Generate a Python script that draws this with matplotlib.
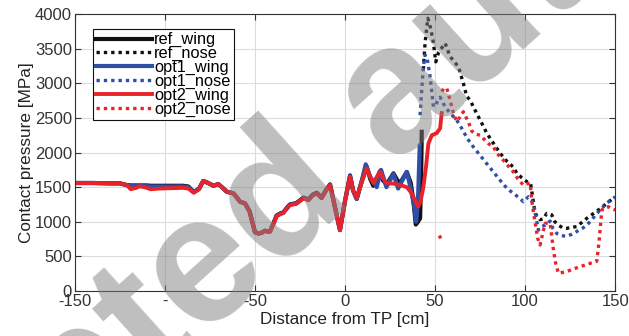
import numpy as np
import matplotlib
matplotlib.use("Agg")
import matplotlib.pyplot as plt

# =============================================================================
# DATA
# =============================================================================

# opt2 wing (red solid), ref and opt1 wings follow it closely up to ~0 cm
opt2_wing_x = [-150, -140, -130, -125, -121, -119, -116, -114, -110, -108, -103, -97,
               -90, -87, -84, -81, -78.7, -76, -73, -70.4, -67.5, -65.7, -62, -60,
               -58.3, -55.5, -53, -51, -50, -48, -46, -44.5, -43, -41.7, -40, -38,
               -36, -34.3, -32, -30.6, -27, -25, -23, -20.4, -18, -15.7, -13, -10.5,
               -8.3, -5.5, -2.8, 0, 2.8, 4.5, 6.5, 9, 12, 14, 15.7, 17.5, 19.4, 21,
               23.1, 26.9, 30.6, 34.3, 36.5, 38, 39.5, 40.7, 42, 43.5, 45, 46.3, 48.2,
               50.9, 52.8, 53.7]
opt2_wing_y = [1560, 1560, 1555, 1555, 1530, 1470, 1490, 1515, 1490, 1470, 1480, 1485,
               1490, 1480, 1420, 1470, 1590, 1560, 1520, 1545, 1480, 1435, 1410, 1350,
               1290, 1265, 1150, 950, 850, 830, 845, 870, 860, 860, 950, 1080,
               1110, 1125, 1200, 1240, 1260, 1300, 1340, 1310, 1380, 1410, 1340, 1450,
               1530, 1200, 880, 1300, 1650, 1450, 1340, 1550, 1770, 1650, 1560, 1640, 1720, 1630,
               1560, 1550, 1530, 1500, 1430, 1360, 1270, 1220, 1300, 1500, 1800, 2130, 2250,
               2280, 2350, 2570]

ref_wing_x = [-150, -140, -130, -125, -121, -119, -116, -114, -110, -108, -103, -97,
              -90, -87, -84, -81, -78.7, -76, -73, -70.4, -67.5, -65.7, -62, -60,
              -58.3, -55.5, -53, -51, -50, -48, -46, -44.5, -43, -41.7, -40, -38,
              -36, -34.3, -32, -30.6, -27, -25, -23, -20.4, -18, -15.7, -13, -10.5,
              -8.3, -5.5, -2.8, 0, 2.8, 4.5, 6.5, 9, 12, 14, 15.7, 17.5, 19.4, 21,
              23.1, 26.9, 29, 30.6, 34.3, 36.5, 38, 39.3, 40.5, 41.7, 42.3, 42.6]
ref_wing_y = [1560, 1560, 1555, 1555, 1530, 1525, 1525, 1525, 1525, 1520, 1520, 1520,
              1520, 1510, 1430, 1480, 1590, 1560, 1520, 1545, 1480, 1435, 1410, 1350,
              1290, 1265, 1150, 950, 850, 830, 845, 870, 860, 860, 960, 1090,
              1120, 1135, 1210, 1250, 1270, 1310, 1350, 1320, 1390, 1420, 1350, 1460,
              1540, 1200, 880, 1300, 1670, 1450, 1330, 1560, 1800, 1620, 1520, 1620, 1730, 1600,
              1540, 1700, 1600, 1560, 1720, 1560, 1300, 960, 1000, 1050, 1700, 2300]

opt1_wing_x = [-150, -140, -130, -125, -121, -119, -116, -114, -110, -108, -103, -97,
               -90, -87, -84, -81, -78.7, -76, -73, -70.4, -67.5, -65.7, -62, -60,
               -58.3, -55.5, -53, -51, -50, -48, -46, -44.5, -43, -41.7, -40, -38,
               -36, -34.3, -32, -30.6, -27, -25, -23, -20.4, -18, -15.7, -13, -10.5,
               -8.3, -5.5, -2.8, 0, 2.8, 4.5, 6.5, 9, 11.5, 14, 17.6, 20, 23, 26.9,
               29.5, 34.3, 36.5, 38.5, 39.5, 40.5, 41.5]
opt1_wing_y = [1560, 1560, 1555, 1555, 1525, 1515, 1515, 1515, 1515, 1510, 1510, 1510,
               1510, 1500, 1425, 1475, 1590, 1560, 1520, 1545, 1480, 1435, 1410, 1350,
               1290, 1265, 1150, 950, 850, 830, 845, 870, 860, 860, 955, 1085,
               1115, 1130, 1205, 1245, 1265, 1305, 1345, 1315, 1385, 1415, 1345, 1455,
               1535, 1200, 880, 1300, 1660, 1450, 1330, 1560, 1830, 1650, 1500, 1750, 1500, 1690,
               1480, 1720, 1480, 1200, 1000, 1300, 2100]

ref_nose_x = [43.5, 44.5, 46, 47.5, 49, 50.4, 52, 55.6, 58.3, 61, 63, 65.7, 67.6, 69.4,
              73, 76, 78.7, 82, 86.1, 90, 93.5, 95.4, 98, 100.9, 103, 105.6, 108.3, 110,
              112, 114.8, 116.5, 118.5, 121, 123.1, 126, 128.7, 131, 134.3, 138, 141.7,
              145.5, 149]
ref_nose_y = [3200, 3600, 3940, 3800, 3600, 3310, 3450, 3580, 3390, 3300, 3240, 3000, 2810, 2760,
              2570, 2420, 2280, 2150, 1990, 1870, 1790, 1700, 1640, 1580, 1560, 1120, 1030, 1040,
              1120, 1100, 1000, 950, 910, 905, 920, 930, 980, 1050, 1120, 1190,
              1270, 1340]

opt1_nose_x = [41.7, 42.6, 43.5, 44.4, 45.5, 47.2, 49.1, 50.5, 52.8, 55.6, 58.3, 60.2, 62,
               64.8, 68, 71.3, 75, 79.6, 83, 86.1, 90, 93.5, 97, 99, 101.8, 104.6, 106.5,
               107.4, 109, 111.1, 113.9, 115.5, 117.6, 120, 123.1, 126, 128.7, 131.5,
               134.3, 137, 139.8, 142.5, 145.4, 150]
opt1_nose_y = [2540, 2900, 3240, 3410, 3380, 3100, 2660, 2700, 2800, 2660, 2570, 2520, 2470,
               2350, 2200, 2080, 1960, 1810, 1700, 1600, 1480, 1410, 1340, 1290, 1360, 1270, 1000,
               880, 930, 950, 1010, 900, 830, 800, 790, 820, 860, 900,
               950, 1030, 1120, 1190, 1270, 1360]

# small stray piece near 52 cm, then the main curve (gap as NaN)
opt2_nose_x = [52.3, 53.2, np.nan,
               53.7, 55, 56.5, 58.3, 60.2, 62, 63.5, 65.7, 67, 68.5, 70.4, 72, 75, 79.6,
               82.4, 84.3, 87.9, 90.5, 93.5, 96, 99, 100.5, 102.8, 104, 105.6, 107, 108.3,
               109.5, 111.1, 112.5, 113.9, 115.7, 116.8, 118.5, 123.1, 127, 130.6, 135,
               139.8, 141, 142.6, 144, 146.3, 148, 150]
opt2_nose_y = [800, 760, np.nan,
               2880, 2930, 2930, 2760, 2570, 2450, 2500, 2590, 2520, 2445, 2310, 2270, 2250, 2130,
               2084, 1990, 1890, 1810, 1720, 1620, 1530, 1545, 1555, 1250, 980, 760, 664,
               800, 977, 980, 977, 600, 420, 256, 280, 320, 351, 390,
               430, 700, 1170, 1200, 1217, 1190, 1170]

X_TICKS = [-150, -100, -50, 0, 50, 100, 150]
# the "100" of -100 is hidden under the watermark in the source
X_TICKLABELS = ["-150", "-", "-50", "0", "50", "100", "150"]
Y_TICKS = [0, 500, 1000, 1500, 2000, 2500, 3000, 3500, 4000]

BLACK = "#111111"
BLUE = "#2f4fa6"
RED = "#e8232a"

# =============================================================================
# PLOT
# =============================================================================

plt.rcParams["font.family"] = ["Liberation Sans", "DejaVu Sans"]

fig = plt.figure(figsize=(6.29, 3.36), dpi=100)
ax = fig.add_axes([0.119, 0.134, 0.859, 0.824])

dots = (0, (1, 1.2))
ax.plot(ref_wing_x, ref_wing_y, color=BLACK, lw=3.0, label="ref_wing")
ax.plot(ref_nose_x, ref_nose_y, color=BLACK, lw=2.4, ls=dots, label="ref_nose")
ax.plot(opt1_wing_x, opt1_wing_y, color=BLUE, lw=3.0, label="opt1_wing")
ax.plot(opt1_nose_x, opt1_nose_y, color=BLUE, lw=2.4, ls=dots, label="opt1_nose")
ax.plot(opt2_wing_x, opt2_wing_y, color=RED, lw=2.8, label="opt2_wing")
ax.plot(opt2_nose_x, opt2_nose_y, color=RED, lw=2.4, ls=dots, label="opt2_nose")

ax.set_xlim(-150, 150)
ax.set_ylim(0, 4000)
ax.set_xticks(X_TICKS, X_TICKLABELS)
ax.set_yticks(Y_TICKS)
ax.grid(True, color="#dcdcdc", lw=0.8)
ax.set_axisbelow(True)
ax.tick_params(direction="in", top=True, right=True, length=4, labelsize=12,
               colors="#333333", pad=2)
for s in ax.spines.values():
    s.set_color("#333333")
    s.set_linewidth(0.8)

ax.set_xlabel("Distance from TP [cm]", fontsize=12.3, color="#222222", labelpad=2)
ax.set_ylabel("Contact pressure [MPa]", fontsize=12.3, color="#222222", labelpad=1)

leg = ax.legend(loc="upper left", bbox_to_anchor=(0.033, 0.946), borderaxespad=0,
                fontsize=11.8, handlelength=3.4, handletextpad=0.15, labelspacing=-0.08,
                borderpad=0.2, fancybox=False, framealpha=1)
leg.get_frame().set_edgecolor("#111111")
leg.get_frame().set_linewidth(0.8)

# semi-transparent watermark laid over everything
fig.text(-0.394, -1.213, "Accepted author manuscript", fontsize=130, fontweight="bold",
         color="#7f7f7f", alpha=0.5, rotation=42, rotation_mode="anchor",
         ha="left", va="baseline", zorder=20)

fig.savefig("out.png", dpi=100)
